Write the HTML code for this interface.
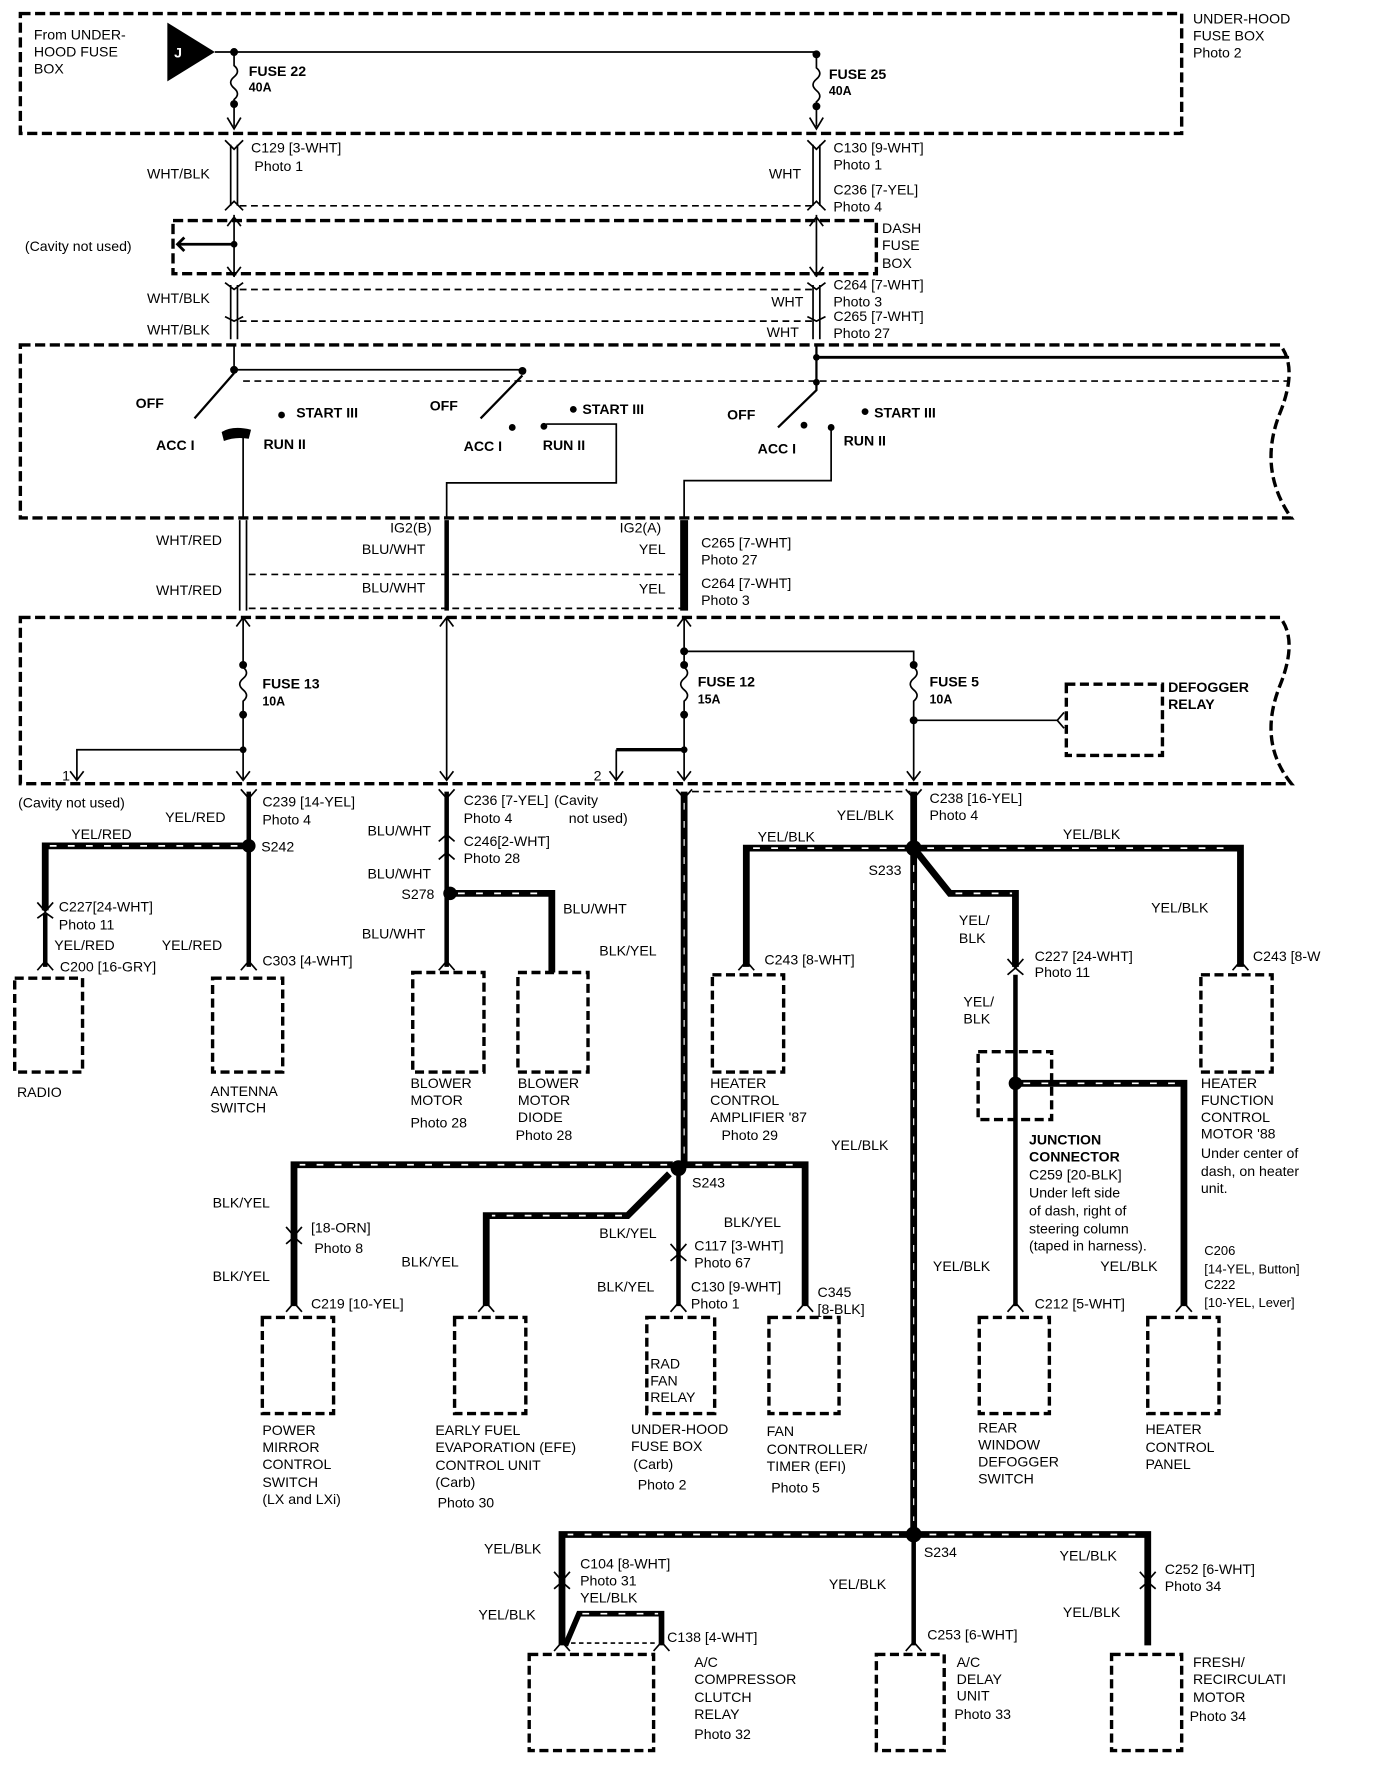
<!DOCTYPE html>
<html><head><meta charset="utf-8"><style>
html,body{margin:0;padding:0;background:#fff}
svg{display:block}
text{font-family:"Liberation Sans",sans-serif;font-size:12.5px;fill:#000}
.b{font-weight:bold}
.d{fill:none;stroke:#000;stroke-width:3;stroke-dasharray:9 4}
.t{fill:none;stroke:#000;stroke-width:1.5}
.k{fill:none;stroke:#000;stroke-width:6}
.h{fill:none;stroke:#fff;stroke-width:1.5;stroke-dasharray:6 10}
.w{fill:none;stroke:#000;stroke-width:7}
.box{fill:none;stroke:#000;stroke-width:3;stroke-dasharray:8 4}
</style></head><body>
<svg width="1392" height="1772" viewBox="0 0 1231 1567" preserveAspectRatio="none" xmlns="http://www.w3.org/2000/svg">
<rect x="18" y="12" width="1027" height="106" class="d"/>
<text x="1055" y="21">UNDER-HOOD</text><text x="1055" y="36">FUSE BOX</text><text x="1055" y="51">Photo 2</text>
<text x="30" y="35">From UNDER-</text><text x="30" y="50">HOOD FUSE</text><text x="30" y="65">BOX</text>
<polygon points="148,20 190,46 148,72" fill="#000"/><text x="154" y="51" style="fill:#fff" class="b">J</text>
<path class="t" d="M190 46H722"/>
<circle cx="207" cy="46" r="3.5"/><circle cx="722" cy="48" r="3.5"/>
<path class="t" d="M207 46V58q6 5 0 10q-6 5 0 10q6 5 0 10V112M201 104l6 10l6-10"/>
<circle cx="207" cy="92" r="3.5"/>
<path class="t" d="M722 48V60q6 5 0 10q-6 5 0 10q6 5 0 10V112M716 104l6 10l6-10"/>
<circle cx="722" cy="94" r="3.5"/>
<text x="220" y="67" class="b">FUSE 22</text><text x="220" y="81" class="b" style="font-size:11px">40A</text>
<text x="733" y="70" class="b">FUSE 25</text><text x="733" y="84" class="b" style="font-size:11px">40A</text>
<path class="t" d="M204 128V182M210 128V182M719 128V182M725 128V182"/>
<path class="t" d="M199 124l8 8l8-8M199 186l8-8l8 8M714 124l8 8l8-8M714 186l8-8l8 8"/>
<path class="t" d="M212 182H720" stroke-dasharray="6 4"/>
<text x="222" y="135">C129 [3-WHT]</text><text x="225" y="151">Photo 1</text><text x="130" y="158">WHT/BLK</text>
<text x="737" y="135">C130 [9-WHT]</text><text x="737" y="150">Photo 1</text><text x="680" y="158">WHT</text>
<text x="737" y="172">C236 [7-YEL]</text><text x="737" y="187">Photo 4</text>
<path class="d" d="M153 195H775V242H153Z"/>
<text x="780" y="206">DASH</text><text x="780" y="221">FUSE</text><text x="780" y="237">BOX</text>
<text x="22" y="222">(Cavity not used)</text>
<path class="t" d="M207 190V245M201 200l6-8l6 8M201 236l6 8l6-8M722 190V245M716 200l6-8l6 8M716 236l6 8l6-8"/>
<path class="k" style="stroke-width:2.5" d="M207 216H157M163 210l-6 6l6 6"/><circle cx="207" cy="216" r="3"/>
<path class="t" d="M204 252V300M210 252V300M719 252V300M725 252V300"/>
<path class="t" d="M199 250l8 6l8-6M199 280l8 4l8-4M714 250l8 6l8-6M714 280l8 4l8-4"/>
<path class="t" d="M212 256H720M212 284H720" stroke-dasharray="6 4"/>
<text x="130" y="268">WHT/BLK</text><text x="130" y="296">WHT/BLK</text>
<text x="737" y="256">C264 [7-WHT]</text><text x="682" y="271">WHT</text><text x="737" y="271">Photo 3</text>
<text x="737" y="284">C265 [7-WHT]</text><text x="678" y="298">WHT</text><text x="737" y="299">Photo 27</text>
<path class="d" d="M18 305H1132q16 20 0 60q-20 50 10 93H18Z"/>
<path class="t" style="stroke-width:2.5" d="M722 316H1140"/>
<path class="t" stroke-dasharray="6 4" d="M215 337H1140"/>
<path class="t" d="M207 305V327H462"/><circle cx="207" cy="327" r="3.5"/><circle cx="462" cy="328" r="3.5"/>
<path class="t" style="stroke-width:2" d="M207 330L172 370M462 332L425 370M722 305V345L688 378"/>
<circle cx="722" cy="316" r="3"/><circle cx="722" cy="338" r="3"/>
<text x="120" y="361" class="b">OFF</text><text x="262" y="369" class="b">START III</text><text x="138" y="398" class="b">ACC I</text><text x="233" y="397" class="b">RUN II</text>
<path d="M196 382q10-6 26-2l-2 8q-12-2-22 2Z" fill="#000"/>
<circle cx="249" cy="367" r="3"/>
<path class="t" d="M215 386V458"/>
<text x="380" y="363" class="b">OFF</text><text x="515" y="366" class="b">START III</text><text x="410" y="399" class="b">ACC I</text><text x="480" y="398" class="b">RUN II</text>
<circle cx="453" cy="378" r="3"/><circle cx="481" cy="377" r="3"/><circle cx="507" cy="362" r="3"/>
<path class="t" d="M483 375H545V427H395V458"/>
<text x="643" y="371" class="b">OFF</text><text x="773" y="369" class="b">START III</text><text x="670" y="401" class="b">ACC I</text><text x="746" y="394" class="b">RUN II</text>
<circle cx="711" cy="376" r="3"/><circle cx="735" cy="378" r="3"/><circle cx="765" cy="364" r="3"/>
<path class="t" d="M735 378V425H605V458"/>
<path class="t" d="M212 460V540M218 460V540"/>
<path class="k" style="stroke-width:4" d="M395 460V540"/>
<path class="w" d="M605 460V540"/>
<path class="t" stroke-dasharray="6 4" d="M220 508H602M220 538H602"/>
<text x="138" y="482">WHT/RED</text><text x="138" y="526">WHT/RED</text>
<text x="345" y="471">IG2(B)</text><text x="320" y="490">BLU/WHT</text><text x="320" y="524">BLU/WHT</text>
<text x="548" y="471">IG2(A)</text><text x="565" y="490">YEL</text><text x="565" y="525">YEL</text>
<text x="620" y="484">C265 [7-WHT]</text><text x="620" y="499">Photo 27</text><text x="620" y="520">C264 [7-WHT]</text><text x="620" y="535">Photo 3</text>
<path class="d" d="M18 546H1132q16 20 0 60q-20 50 10 87H18Z"/>
<path class="t" d="M215 546V590q6 5 0 10q-6 5 0 10q6 5 0 10V690M209 682l6 8l6-8M209 554l6-8l6 8"/>
<circle cx="215" cy="588" r="3.5"/><circle cx="215" cy="632" r="3.5"/><circle cx="215" cy="663" r="3"/>
<path class="t" d="M215 663H68V690M62 682l6 8l6-8"/><text x="55" y="690">1</text>
<text x="232" y="609" class="b">FUSE 13</text><text x="232" y="624" class="b" style="font-size:11px">10A</text>
<path class="t" d="M395 546V690M389 682l6 8l6-8M389 554l6-8l6 8"/>
<path class="t" d="M605 546V590q6 5 0 10q-6 5 0 10q6 5 0 10V690M599 682l6 8l6-8M599 554l6-8l6 8"/>
<circle cx="605" cy="576" r="3.5"/><circle cx="605" cy="588" r="3.5"/><circle cx="605" cy="632" r="3.5"/><circle cx="605" cy="663" r="3"/>
<path class="t" d="M605 576H808V590q6 5 0 10q-6 5 0 10q6 5 0 10V690M802 682l6 8l6-8"/>
<circle cx="808" cy="588" r="3.5"/><circle cx="808" cy="637" r="3.5"/>
<path class="k" style="stroke-width:3" d="M605 663H545"/><path class="t" d="M545 663V690M539 682l6 8l6-8"/><text x="525" y="690">2</text>
<text x="617" y="607" class="b">FUSE 12</text><text x="617" y="622" class="b" style="font-size:11px">15A</text>
<text x="822" y="607" class="b">FUSE 5</text><text x="822" y="622" class="b" style="font-size:11px">10A</text>
<path class="t" d="M808 637H935M941 630l-6 7l6 7"/>
<rect x="943" y="605" width="85" height="63" class="box"/>
<text x="1033" y="612" class="b">DEFOGGER</text><text x="1033" y="627" class="b">RELAY</text>
<text x="16" y="714">(Cavity not used)</text>
<path class="k" style="stroke-width:4" d="M220 700V855"/>
<path class="t" d="M213 698l7 8l7-8M213 858l7-8l7 8"/>
<text x="232" y="713">C239 [14-YEL]</text><text x="232" y="729">Photo 4</text><text x="146" y="727">YEL/RED</text>
<circle cx="220" cy="748" r="6"/><text x="231" y="753">S242</text>
<path class="k" d="M216 748H40V805"/><path class="h" d="M210 748H44"/>
<text x="63" y="742">YEL/RED</text>
<path class="t" d="M33 798l7 8l7-8M33 812l7-5l7 5M33 858l7-8l7 8"/><path class="k" style="stroke-width:4" d="M40 808V855"/>
<text x="52" y="806">C227[24-WHT]</text><text x="52" y="822">Photo 11</text><text x="48" y="840">YEL/RED</text><text x="53" y="859">C200 [16-GRY]</text>
<text x="143" y="840">YEL/RED</text><text x="232" y="854">C303 [4-WHT]</text>
<rect x="13" y="865" width="60" height="83" class="box"/><text x="15" y="970">RADIO</text>
<rect x="188" y="865" width="62" height="83" class="box"/><text x="186" y="969">ANTENNA</text><text x="186" y="984">SWITCH</text>
<path class="k" style="stroke-width:4" d="M395 700V855"/>
<path class="t" d="M388 698l7 8l7-8M388 744l7-6l7 6M388 760l7-6l7 6M388 858l7-8l7 8"/>
<text x="410" y="712">C236 [7-YEL]</text><text x="410" y="728">Photo 4</text><text x="490" y="712">(Cavity</text><text x="503" y="728">not used)</text>
<text x="325" y="739">BLU/WHT</text><text x="410" y="748">C246[2-WHT]</text><text x="410" y="763">Photo 28</text><text x="325" y="777">BLU/WHT</text>
<circle cx="398" cy="790" r="6"/><text x="355" y="795">S278</text>
<path class="k" d="M398 790H488V860"/><path class="h" d="M405 790H484"/>
<text x="498" y="808">BLU/WHT</text><text x="320" y="830">BLU/WHT</text>
<rect x="365" y="860" width="63" height="88" class="box"/><rect x="458" y="860" width="62" height="88" class="box"/>
<text x="363" y="962">BLOWER</text><text x="363" y="977">MOTOR</text><text x="363" y="997">Photo 28</text>
<text x="458" y="962">BLOWER</text><text x="458" y="977">MOTOR</text><text x="458" y="992">DIODE</text><text x="456" y="1008">Photo 28</text>
<path class="k" d="M605 700V1030"/><path class="h" d="M605 710V1020" style="stroke-width:1"/>
<path class="t" d="M598 698l7 8l7-8"/>
<path class="t" stroke-dasharray="6 4" d="M612 700H805"/>
<text x="530" y="845">BLK/YEL</text>
<path class="k" d="M808 700V1357"/><path class="h" d="M808 765V1345" style="stroke-width:1"/>
<path class="t" d="M801 698l7 8l7-8"/>
<text x="822" y="710">C238 [16-YEL]</text><text x="822" y="725">Photo 4</text><text x="740" y="725">YEL/BLK</text>
<circle cx="808" cy="750" r="7"/><text x="768" y="774">S233</text>
<path class="k" d="M805 750H660V855"/><path class="h" d="M800 750H665"/>
<text x="670" y="744">YEL/BLK</text><text x="676" y="853">C243 [8-WHT]</text>
<path class="t" d="M653 858l7-8l7 8"/>
<rect x="630" y="862" width="63" height="86" class="box"/>
<text x="628" y="962">HEATER</text><text x="628" y="977">CONTROL</text><text x="628" y="992">AMPLIFIER '87</text><text x="638" y="1008">Photo 29</text>
<path class="k" d="M812 750H1097V855"/><path class="h" d="M820 750H1092"/>
<text x="940" y="742">YEL/BLK</text><text x="1018" y="807">YEL/BLK</text><text x="1108" y="850">C243 [8-W</text>
<path class="t" d="M1090 858l7-8l7 8"/>
<rect x="1062" y="862" width="63" height="86" class="box"/>
<text x="1062" y="962">HEATER</text><text x="1062" y="977">FUNCTION</text><text x="1062" y="992">CONTROL</text><text x="1062" y="1007">MOTOR '88</text>
<text x="1062" y="1024">Under center of</text><text x="1062" y="1040">dash, on heater</text><text x="1062" y="1055">unit.</text>
<path class="k" d="M812 755L840 790H898V855"/><path class="h" d="M845 790H895"/>
<text x="848" y="818">YEL/</text><text x="848" y="834">BLK</text>
<path class="t" d="M891 848l7 8l7-8M891 862l7-6l7 6"/>
<text x="915" y="850">C227 [24-WHT]</text><text x="915" y="864">Photo 11</text>
<text x="852" y="890">YEL/</text><text x="852" y="905">BLK</text>
<path class="k" style="stroke-width:4" d="M898 862V1155"/>
<rect x="865" y="930" width="65" height="60" class="box"/>
<circle cx="898" cy="958" r="6"/>
<path class="k" d="M898 958H1047V1155"/><path class="h" d="M905 958H1042"/>
<text x="910" y="1012" class="b">JUNCTION</text><text x="910" y="1027" class="b">CONNECTOR</text>
<text x="910" y="1043">C259 [20-BLK]</text><text x="910" y="1059">Under left side</text><text x="910" y="1075">of dash, right of</text>
<text x="910" y="1091">steering column</text><text x="910" y="1106">(taped in harness).</text>
<text x="825" y="1124">YEL/BLK</text><text x="915" y="1157">C212 [5-WHT]</text>
<text x="973" y="1124">YEL/BLK</text><text x="1065" y="1110" style="font-size:11.5px">C206</text><text x="1065" y="1126" style="font-size:11.5px">[14-YEL, Button]</text>
<text x="1065" y="1140" style="font-size:11.5px">C222</text><text x="1065" y="1156" style="font-size:11.5px">[10-YEL, Lever]</text>
<path class="t" d="M891 1160l7-8l7 8M1040 1160l7-8l7 8"/>
<rect x="866" y="1165" width="62" height="85" class="box"/><rect x="1015" y="1165" width="63" height="85" class="box"/>
<text x="865" y="1267">REAR</text><text x="865" y="1282">WINDOW</text><text x="865" y="1297">DEFOGGER</text><text x="865" y="1312">SWITCH</text>
<text x="1013" y="1268">HEATER</text><text x="1013" y="1284">CONTROL</text><text x="1013" y="1299">PANEL</text>
<text x="735" y="1017">YEL/BLK</text>
<circle cx="600" cy="1033" r="7"/><text x="612" y="1050">S243</text>
<path class="k" d="M595 1030H260V1155"/><path class="h" d="M590 1030H265"/>
<text x="188" y="1068">BLK/YEL</text><text x="275" y="1090">[18-ORN]</text><text x="278" y="1108">Photo 8</text>
<text x="188" y="1133">BLK/YEL</text><text x="275" y="1157">C219 [10-YEL]</text>
<path class="t" d="M253 1085l7 8l7-8M253 1100l7-6l7 6M253 1160l7-8l7 8"/>
<path class="k" d="M592 1038L555 1075H430V1155"/><path class="h" d="M550 1075H435"/>
<text x="355" y="1120">BLK/YEL</text><text x="530" y="1095">BLK/YEL</text>
<path class="t" d="M423 1160l7-8l7 8"/>
<path class="k" style="stroke-width:4" d="M600 1036V1155"/>
<path class="t" d="M593 1100l7 8l7-8M593 1115l7-6l7 6M593 1160l7-8l7 8"/>
<text x="640" y="1085">BLK/YEL</text><text x="614" y="1106">C117 [3-WHT]</text><text x="614" y="1121">Photo 67</text>
<text x="528" y="1142">BLK/YEL</text><text x="611" y="1142">C130 [9-WHT]</text><text x="611" y="1157">Photo 1</text>
<path class="k" d="M605 1030H712V1155"/><path class="h" d="M615 1030H708"/>
<text x="723" y="1147">C345</text><text x="723" y="1162">[8-BLK]</text>
<path class="t" d="M705 1160l7-8l7 8"/>
<rect x="232" y="1165" width="63" height="85" class="box"/><rect x="402" y="1165" width="63" height="85" class="box"/>
<rect x="572" y="1165" width="60" height="85" class="box"/><rect x="680" y="1165" width="62" height="85" class="box"/>
<text x="575" y="1210">RAD</text><text x="575" y="1225">FAN</text><text x="575" y="1240">RELAY</text>
<text x="232" y="1269">POWER</text><text x="232" y="1284">MIRROR</text><text x="232" y="1299">CONTROL</text><text x="232" y="1315">SWITCH</text><text x="232" y="1330">(LX and LXi)</text>
<text x="385" y="1269">EARLY FUEL</text><text x="385" y="1284">EVAPORATION (EFE)</text><text x="385" y="1300">CONTROL UNIT</text><text x="385" y="1315">(Carb)</text><text x="387" y="1333">Photo 30</text>
<text x="558" y="1268">UNDER-HOOD</text><text x="558" y="1283">FUSE BOX</text><text x="560" y="1299">(Carb)</text><text x="564" y="1317">Photo 2</text>
<text x="678" y="1270">FAN</text><text x="678" y="1286">CONTROLLER/</text><text x="678" y="1301">TIMER (EFI)</text><text x="682" y="1320">Photo 5</text>
<circle cx="808" cy="1357" r="7"/><text x="817" y="1377">S234</text>
<path class="k" d="M802 1357H497V1455"/><path class="h" d="M795 1357H502"/>
<text x="428" y="1374">YEL/BLK</text><text x="513" y="1387">C104 [8-WHT]</text><text x="513" y="1402">Photo 31</text>
<text x="513" y="1417">YEL/BLK</text><text x="423" y="1432">YEL/BLK</text><text x="590" y="1452">C138 [4-WHT]</text>
<path class="t" d="M490 1390l7 8l7-8M490 1405l7-6l7 6M490 1460l7-8l7 8M578 1460l7-8l7 8"/>
<path class="k" style="stroke-width:5" d="M500 1455L512 1427H585V1455"/><path class="h" d="M515 1427H582"/>
<path class="t" d="M505 1453H580" stroke-dasharray="4 3"/>
<path class="k" style="stroke-width:4" d="M808 1360V1455"/>
<path class="t" d="M801 1460l7-8l7 8"/>
<text x="733" y="1405">YEL/BLK</text><text x="820" y="1450">C253 [6-WHT]</text>
<path class="k" d="M814 1357H1015V1455"/><path class="h" d="M822 1357H1010"/>
<text x="937" y="1380">YEL/BLK</text><text x="1030" y="1392">C252 [6-WHT]</text><text x="1030" y="1407">Photo 34</text><text x="940" y="1430">YEL/BLK</text>
<path class="t" d="M1008 1390l7 8l7-8M1008 1405l7-6l7 6"/>
<rect x="468" y="1463" width="110" height="85" class="box"/><rect x="775" y="1463" width="60" height="85" class="box"/><rect x="983" y="1463" width="62" height="85" class="box"/>
<text x="614" y="1474">A/C</text><text x="614" y="1489">COMPRESSOR</text><text x="614" y="1505">CLUTCH</text><text x="614" y="1520">RELAY</text><text x="614" y="1538">Photo 32</text>
<text x="846" y="1474">A/C</text><text x="846" y="1489">DELAY</text><text x="846" y="1504">UNIT</text><text x="844" y="1520">Photo 33</text>
<text x="1055" y="1474">FRESH/</text><text x="1055" y="1489">RECIRCULATI</text><text x="1055" y="1505">MOTOR</text><text x="1052" y="1522">Photo 34</text>
</svg>
</body></html>
